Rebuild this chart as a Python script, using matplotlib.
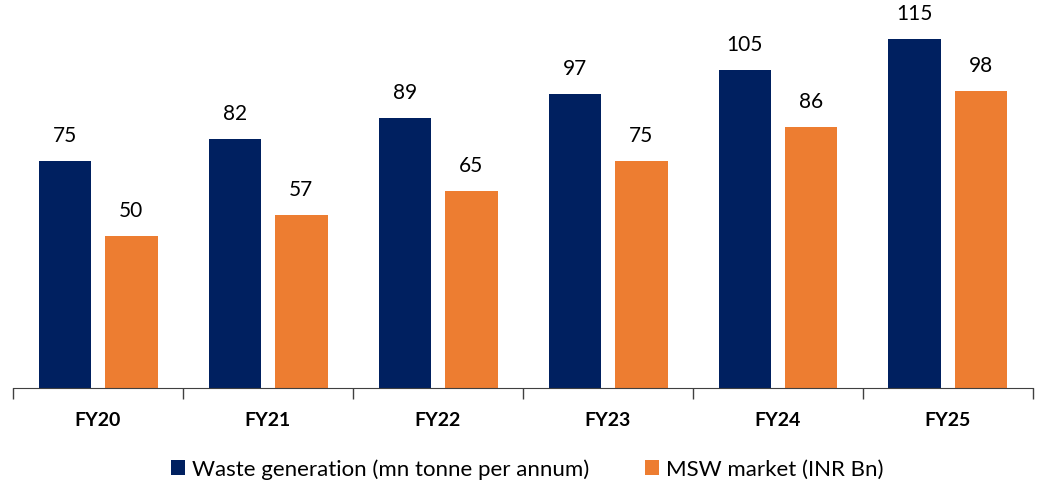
import matplotlib.pyplot as plt
import numpy as np

plt.rcParams['font.family'] = ['Lato', 'DejaVu Sans']

years = ['FY20', 'FY21', 'FY22', 'FY23', 'FY24', 'FY25']
waste_gen = [75, 82, 89, 97, 105, 115]
msw_market = [50, 57, 65, 75, 86, 98]

navy = '#002060'
orange = '#ED7D31'

fig = plt.figure(figsize=(10.44, 4.86), dpi=100)
ax = fig.add_axes([13 / 1044, 98 / 486, 1020 / 1044, 388 / 486])

x = np.arange(len(years))
w = 0.31
off = 0.195
b1 = ax.bar(x - off, waste_gen, w, color=navy, label='Waste generation (mn tonne per annum)')
b2 = ax.bar(x + off, msw_market, w, color=orange, label='MSW market (INR Bn)')

for bars, vals in [(b1, waste_gen), (b2, msw_market)]:
    for rect, v in zip(bars, vals):
        ax.text(rect.get_x() + rect.get_width() / 2, v + 5, str(v),
                ha='center', va='bottom', fontsize=15)

ax.set_xlim(-0.5, len(years) - 0.5)
ax.set_ylim(0, 128)
ax.set_yticks([])
for s in ['top', 'right', 'left']:
    ax.spines[s].set_visible(False)
ax.spines['bottom'].set_color('#404040')

ax.set_xticks(x)
ax.set_xticklabels(years, fontsize=14, fontweight='bold')
ax.tick_params(axis='x', which='major', length=0, pad=17)
ax.set_xticks(np.arange(-0.5, len(years)), minor=True)
ax.tick_params(axis='x', which='minor', length=8, color='#404040', width=1)

fig.legend(loc='lower center', bbox_to_anchor=(0.505, -0.028), ncol=2, frameon=False,
           fontsize=16, handlelength=0.65, handleheight=0.65, handletextpad=0.3,
           columnspacing=2.5)

plt.savefig('out.png', dpi=100)
